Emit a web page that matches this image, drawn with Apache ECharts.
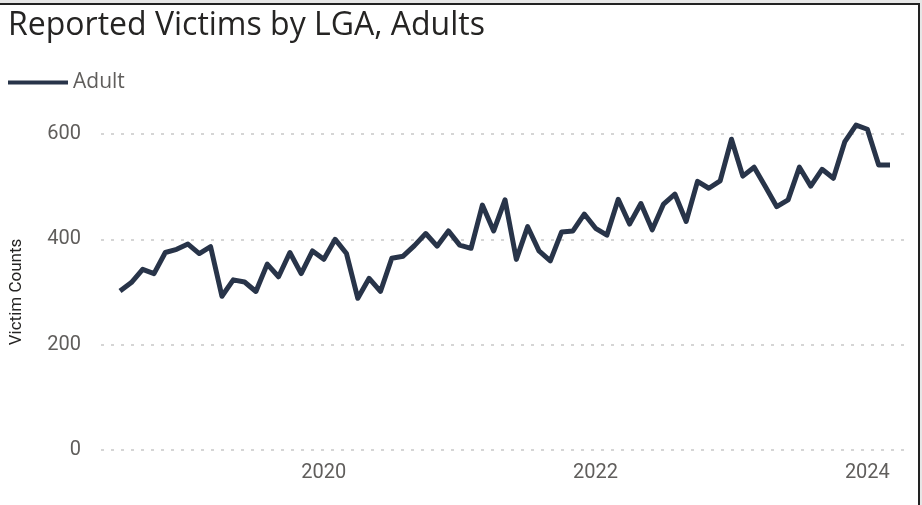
<!DOCTYPE html>
<html>
<head>
<meta charset="utf-8">
<script src="https://cdn.jsdelivr.net/npm/echarts@6/dist/echarts.min.js"></script>
<style>
html,body{margin:0;padding:0;background:#fff;}
#c{width:922px;height:505px;}
</style>
</head>
<body>
<div id="c"></div>
<script>
// Monthly data, Jul 2018 .. Mar 2024
const startYear = 2018;
const startMonth = 7; // July
const adultCounts = [
  302, 318, 343, 335, 375, 381, 391, 373, 386, 292, 323, 319,
  301, 353, 329, 375, 335, 378, 362, 400, 373, 288, 326, 301,
  364, 368, 388, 411, 387, 416, 389, 383, 465, 416, 475, 362,
  424, 378, 359, 414, 416, 448, 421, 408, 476, 429, 468, 418,
  467, 486, 434, 510, 497, 511, 590, 520, 537, 500, 462, 475,
  537, 501, 533, 516, 585, 617, 609, 541, 541
];
const xTickYears = [2020, 2022, 2024];
const yTicks = [0, 200, 400, 600];

const seriesData = adultCounts.map((v, i) => {
  const m = startMonth - 1 + i;
  return [startYear + m / 12, v];
});

const chart = echarts.init(document.getElementById('c'));
const labelColor = '#605E5C';
const font = 'Roboto';
chart.setOption({
  animation: false,
  backgroundColor: '#fff',
  title: {
    text: 'Reported Victims by LGA, Adults',
    left: 3, top: 5,
    textStyle: { fontFamily: 'Open Sans', fontSize: 32, fontWeight: 'normal', color: '#252423' }
  },
  legend: {
    left: 8, top: 72, padding: 0,
    data: ['Adult'],
    icon: 'rect',
    itemWidth: 60, itemHeight: 4, itemGap: 6,
    textStyle: { fontFamily: 'Open Sans', fontSize: 21, color: labelColor }
  },
  grid: { left: 100, right: 17, top: 134, bottom: 55, containLabel: false },
  xAxis: {
    type: 'value',
    min: 2018.36, max: 2024.277,
    axisLine: { show: false }, axisTick: { show: false },
    splitLine: { show: false },
    axisLabel: {
      customValues: xTickYears,
      formatter: v => String(Math.round(v)),
      fontFamily: font, fontSize: 20, color: labelColor, margin: 13
    }
  },
  yAxis: {
    type: 'value',
    min: 0, max: 600, interval: 200,
    name: 'Victim Counts',
    nameLocation: 'middle', nameGap: 76, nameRotate: 90,
    nameTextStyle: { fontFamily: font, fontSize: 17, color: '#252423' },
    axisLine: { show: false }, axisTick: { show: false },
    axisLabel: { fontFamily: font, fontSize: 20, color: labelColor, margin: 20 },
    splitLine: { lineStyle: { type: [3, 7], color: '#C8C8C8', width: 1.5 } }
  },
  series: [{
    name: 'Adult', type: 'line',
    data: seriesData,
    showSymbol: false, symbol: 'none',
    clip: false,
    lineStyle: { width: 5, color: '#283449', join: 'round' },
    itemStyle: { color: '#283449' }
  }],
  graphic: [
    { type: 'rect', shape: { x: 0, y: 0, width: 922, height: 3 }, style: { fill: '#E6E6E6' } },
    { type: 'rect', shape: { x: 0, y: 3, width: 920, height: 2 }, style: { fill: '#222' } },
    { type: 'rect', shape: { x: 918, y: 3, width: 2, height: 502 }, style: { fill: '#222' } },
    { type: 'rect', shape: { x: 920, y: 0, width: 2, height: 505 }, style: { fill: '#E6E6E6' } }
  ]
});
</script>
</body>
</html>
